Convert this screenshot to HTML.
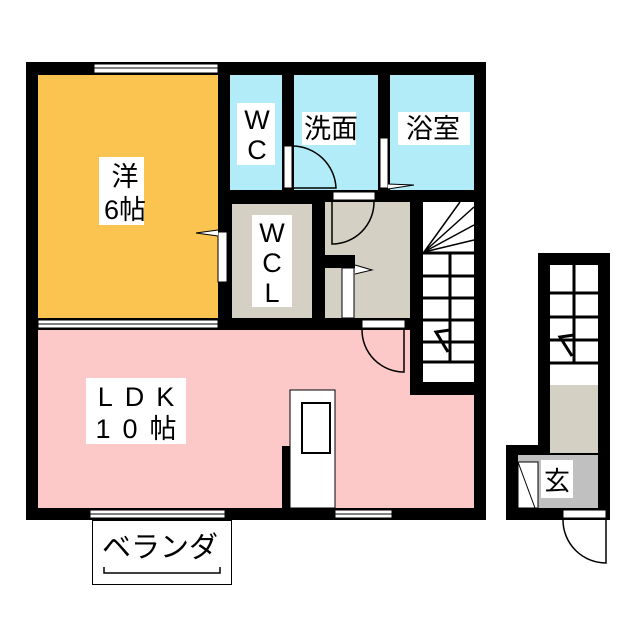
<!DOCTYPE html>
<html><head><meta charset="utf-8"><style>
body{margin:0;background:#fff}
svg{display:block}
text{font-family:"Liberation Sans","Noto Sans CJK JP",sans-serif;fill:#000}
</style></head><body>
<svg width="640" height="640" viewBox="0 0 640 640" xmlns="http://www.w3.org/2000/svg">
<rect x="26" y="62" width="460" height="458" fill="#000"/>
<rect x="38" y="75" width="180" height="243" fill="#fbc450"/>
<rect x="230" y="75" width="52" height="115" fill="#b3ecf9"/>
<rect x="294" y="75" width="84" height="115" fill="#b3ecf9"/>
<rect x="390" y="75" width="84" height="115" fill="#b3ecf9"/>
<rect x="232" y="204" width="80" height="114" fill="#d4d1c4"/>
<rect x="325" y="202" width="85" height="116" fill="#d4d1c4"/>
<rect x="325" y="255" width="30" height="13" fill="#000"/>
<rect x="342" y="268" width="12" height="50" fill="#fff" stroke="#000"/>
<path d="M355 265 L372 270 L355 274" fill="#fff" stroke="#000"/>
<path d="M38 330 H410 V395 H474 V508 H38 Z" fill="#fdc8c8"/>
<rect x="423" y="202" width="51" height="180" fill="#fff"/>
<g stroke="#000" stroke-width="3">
<line x1="423" y1="253" x2="474" y2="253"/><line x1="423" y1="276" x2="474" y2="276"/>
<line x1="423" y1="298" x2="474" y2="298"/><line x1="423" y1="320" x2="474" y2="320"/>
<line x1="423" y1="342" x2="474" y2="342"/><line x1="423" y1="362" x2="474" y2="362"/>
<line x1="450" y1="253" x2="450" y2="362"/>
</g>
<g stroke="#000" stroke-width="1.5">
<line x1="424" y1="252" x2="474" y2="207"/><line x1="424" y1="252" x2="474" y2="225"/>
<line x1="424" y1="252" x2="460" y2="202"/><line x1="424" y1="252" x2="474" y2="240"/>
<path d="M448 352 L436 332 L450 330" fill="none" stroke-width="3"/>
</g>
<rect x="410" y="255" width="13" height="140" fill="#000"/>
<rect x="410" y="382" width="76" height="13" fill="#000"/>
<rect x="282" y="446" width="10" height="74" fill="#000"/>
<rect x="290" y="390" width="45" height="118" fill="#fff" stroke="#000"/>
<rect x="302" y="403" width="28" height="50" fill="#fff" stroke="#000" stroke-width="2"/>
<g fill="#fff" stroke="#000" stroke-width="1">
<rect x="94" y="64" width="124" height="9"/>
<rect x="38" y="320" width="180" height="8"/>
<rect x="90" y="510" width="135" height="8"/>
<rect x="335" y="510" width="57" height="8"/>
</g>
<g stroke="#000" stroke-width="1">
<line x1="94" y1="68" x2="218" y2="68"/><line x1="38" y1="324" x2="218" y2="324"/>
<line x1="90" y1="514" x2="225" y2="514"/><line x1="335" y1="514" x2="392" y2="514"/>
</g>
<rect x="218" y="232" width="9" height="50" fill="#fff" stroke="#000"/>
<path d="M218 236 L196 233 L218 230" fill="#fff" stroke="#000"/>
<rect x="284" y="146" width="8" height="42" fill="#fff" stroke="#000"/>
<path d="M292 146 A44 44 0 0 1 336 188 H292" fill="none" stroke="#000" stroke-width="1.5"/>
<rect x="380" y="138" width="8" height="50" fill="#fff" stroke="#000"/>
<path d="M388 184 L414 185 L388 189" fill="#fff" stroke="#000"/>
<rect x="333" y="192" width="42" height="8" fill="#fff" stroke="#000"/>
<path d="M374 202 A42 42 0 0 1 332 244 V202" fill="none" stroke="#000" stroke-width="1.5"/>
<rect x="362" y="320" width="43" height="8" fill="#fff" stroke="#000"/>
<path d="M362 330 A42 42 0 0 0 404 372 V330" fill="none" stroke="#000" stroke-width="1.5"/>
<g fill="#fff">
<rect x="99" y="157" width="45" height="68"/>
<rect x="237" y="103" width="38" height="62"/>
<rect x="302" y="112" width="54" height="33"/>
<rect x="398" y="112" width="72" height="33"/>
<rect x="252" y="215" width="40" height="92"/>
<rect x="86" y="378" width="100" height="66"/>
</g>
<g font-size="27" text-anchor="middle">
<text x="125" y="186">洋</text><text x="125" y="219">6帖</text>
<text x="257" y="129">W</text><text x="257" y="159">C</text>
<text x="331" y="138">洗面</text><text x="433" y="138">浴室</text>
<text x="272" y="242">W</text><text x="272" y="272">C</text><text x="272" y="302">L</text>
<text x="142" y="406" letter-spacing="12">LDK</text><text x="142" y="438" letter-spacing="12">10帖</text>
<text x="160" y="557" font-size="29">ベランダ</text>
</g>
<rect x="92.5" y="520.5" width="139" height="64" fill="none" stroke="#000"/>
<path d="M104 567 V573 H220 V567" fill="none" stroke="#000" stroke-width="1.5"/>
<rect x="538" y="253" width="72" height="267" fill="#000"/>
<rect x="506" y="445" width="104" height="75" fill="#000"/>
<rect x="550" y="265" width="48" height="120" fill="#fff"/>
<g stroke="#000" stroke-width="3">
<line x1="550" y1="293" x2="598" y2="293"/><line x1="550" y1="317" x2="598" y2="317"/>
<line x1="550" y1="340" x2="598" y2="340"/><line x1="550" y1="363" x2="598" y2="363"/>
<line x1="574" y1="265" x2="574" y2="363"/>
<path d="M572 356 L560 337 L574 335" fill="none"/>
</g>
<rect x="550" y="385" width="48" height="68" fill="#d4d1c4"/>
<rect x="518" y="455" width="80" height="53" fill="#c0c0c0"/>
<rect x="518" y="462" width="20" height="46" fill="#fff" stroke="#000"/>
<line x1="518" y1="462" x2="535" y2="508" stroke="#000"/>
<rect x="541" y="460" width="32" height="38" fill="#fff"/>
<text x="557" y="490" font-size="26" text-anchor="middle">玄</text>
<rect x="563" y="510" width="43" height="8" fill="#fff" stroke="#000"/>
<path d="M563 520 A43 43 0 0 0 606 563 V520" fill="none" stroke="#000" stroke-width="1.5"/>
</svg>
</body></html>
